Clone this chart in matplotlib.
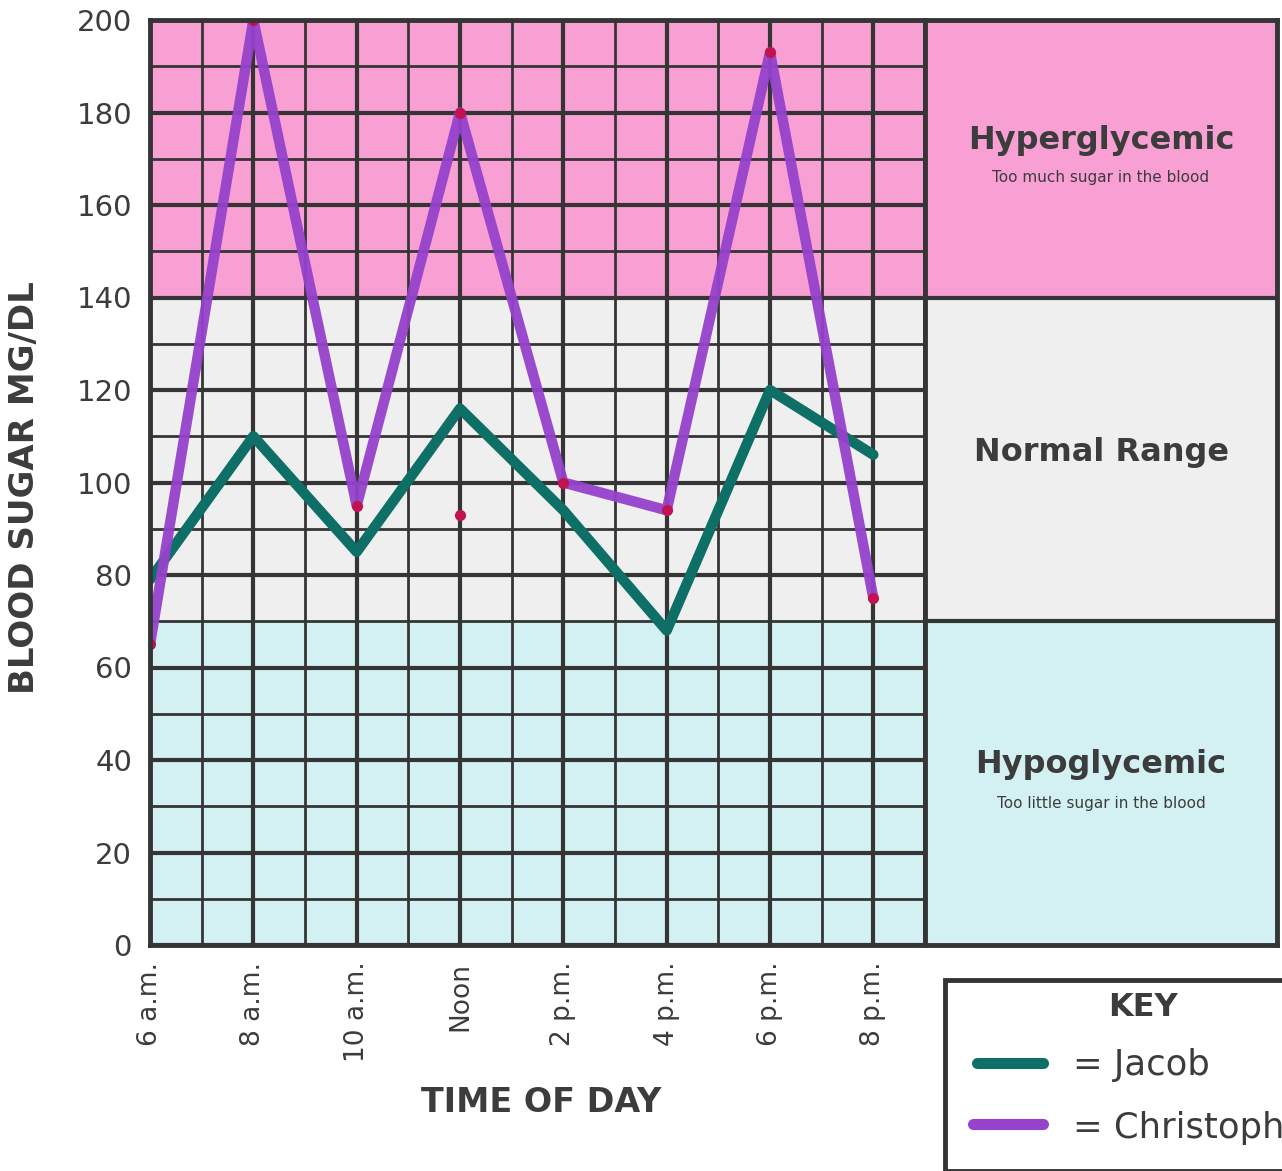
import matplotlib.pyplot as plt
from matplotlib.patches import Rectangle
import numpy as np

# data
hours = [6, 8, 10, 12, 14, 16, 18, 20]
hour_labels = ['6 a.m.', '8 a.m.', '10 a.m.', 'Noon', '2 p.m.', '4 p.m.', '6 p.m.', '8 p.m.']
jacob = [79, 110, 85, 116, 94, 68, 120, 106]
christopher = [65, 200, 95, 180, 100, 94, 193, 75]
stray_hours = [12]
stray_values = [93]

y_ticks = list(range(0, 201, 20))
zones = [(0, 70, '#d3f1f3'), (70, 140, '#efefef'), (140, 200, '#f89fd4')]

teal = '#0e6f66'
purple = '#9642cc'
dot = '#c2124f'
grid = '#353535'
text_col = '#3c3c3c'

plt.rcParams['font.family'] = ['DejaVu Sans']

W, H = 1282, 1171
fig = plt.figure(figsize=(W / 100, H / 100), dpi=100)

# main plot area (pixel box 150..925 x 20..945)
ax = fig.add_axes([150 / W, (H - 945) / H, 775 / W, 925 / H])
ax.set_xlim(6, 21)
ax.set_ylim(0, 200)
for lo, hi, c in zones:
    ax.axhspan(lo, hi, color=c, zorder=0)

for x in np.arange(6, 22, 1):
    lw = 3.0 if x % 2 == 0 else 2.0
    ax.axvline(x, color=grid, lw=lw, zorder=1)
for y in np.arange(0, 201, 10):
    lw = 3.0 if y % 20 == 0 else 2.0
    ax.axhline(y, color=grid, lw=lw, zorder=1)

ax.plot(hours, jacob, color=teal, lw=7.5, solid_capstyle='round',
        solid_joinstyle='round', zorder=3)
ax.plot(hours, christopher, color=purple, lw=7.5, solid_capstyle='round',
        solid_joinstyle='round', zorder=4, alpha=0.95)
ax.plot(hours, christopher, 'o', color=dot, ms=7, zorder=5)
ax.plot(stray_hours, stray_values, 'o', color=dot, ms=7, zorder=5)

for s in ax.spines.values():
    s.set_color(grid)
    s.set_linewidth(3.5)
    s.set_zorder(6)

ax.set_yticks(y_ticks)
ax.set_yticklabels([str(v) for v in y_ticks], fontsize=21, color=text_col)
ax.set_xticks(hours)
ax.set_xticklabels(hour_labels, rotation=90, fontsize=19, color=text_col)
ax.tick_params(axis='both', length=0)
ax.tick_params(axis='y', pad=13)
ax.tick_params(axis='x', pad=12)

fig.text(25 / W, 1 - 488 / H, 'BLOOD SUGAR MG/DL', rotation=90, ha='center',
         va='center', fontsize=24.5, fontweight='bold', color=text_col)
fig.text(541 / W, 1 - 1103 / H, 'TIME OF DAY', ha='center', va='center',
         fontsize=24, fontweight='bold', color=text_col,
         family=['Liberation Sans Narrow', 'DejaVu Sans'])

# right hand zone panel
pan = fig.add_axes([925 / W, (H - 945) / H, 352 / W, 925 / H])
pan.set_xlim(0, 1)
pan.set_ylim(0, 200)
for lo, hi, c in zones:
    pan.axhspan(lo, hi, color=c, zorder=0)
for y in [70, 140]:
    pan.axhline(y, color=grid, lw=3.0)
pan.set_xticks([])
pan.set_yticks([])
for s in pan.spines.values():
    s.set_color(grid)
    s.set_linewidth(3.5)

pan.text(0.5, 174, 'Hyperglycemic', ha='center', va='center', fontsize=23,
         fontweight='bold', color=text_col)
pan.text(0.5, 166, 'Too much sugar in the blood', ha='center', va='center',
         fontsize=11, color=text_col)
pan.text(0.5, 106.5, 'Normal Range', ha='center', va='center', fontsize=23,
         fontweight='bold', color=text_col)
pan.text(0.5, 39, 'Hypoglycemic', ha='center', va='center', fontsize=23,
         fontweight='bold', color=text_col)
pan.text(0.5, 30.5, 'Too little sugar in the blood', ha='center', va='center',
         fontsize=11, color=text_col)

# key box
fig.patches.append(Rectangle((945 / W, 0), 400 / W, (H - 980) / H,
                             transform=fig.transFigure, fill=False,
                             ec=grid, lw=3.5))
fig.text(1143 / W, 1 - 1008 / H, 'KEY', ha='center', va='center', fontsize=23,
         fontweight='bold', color=text_col)
fig.lines.append(plt.Line2D([977 / W, 1043 / W], [1 - 1063 / H, 1 - 1063 / H],
                            transform=fig.transFigure, color=teal, lw=8,
                            solid_capstyle='round'))
fig.lines.append(plt.Line2D([973 / W, 1043 / W], [1 - 1124 / H, 1 - 1124 / H],
                            transform=fig.transFigure, color=purple, lw=8,
                            solid_capstyle='round'))
fig.text(1073 / W, 1 - 1065 / H, '= Jacob', ha='left', va='center',
         fontsize=25.5, color=text_col)
fig.text(1073 / W, 1 - 1128 / H, '= Christopher', ha='left', va='center',
         fontsize=25.5, color=text_col)

fig.savefig('out.png', dpi=100, facecolor='white')
